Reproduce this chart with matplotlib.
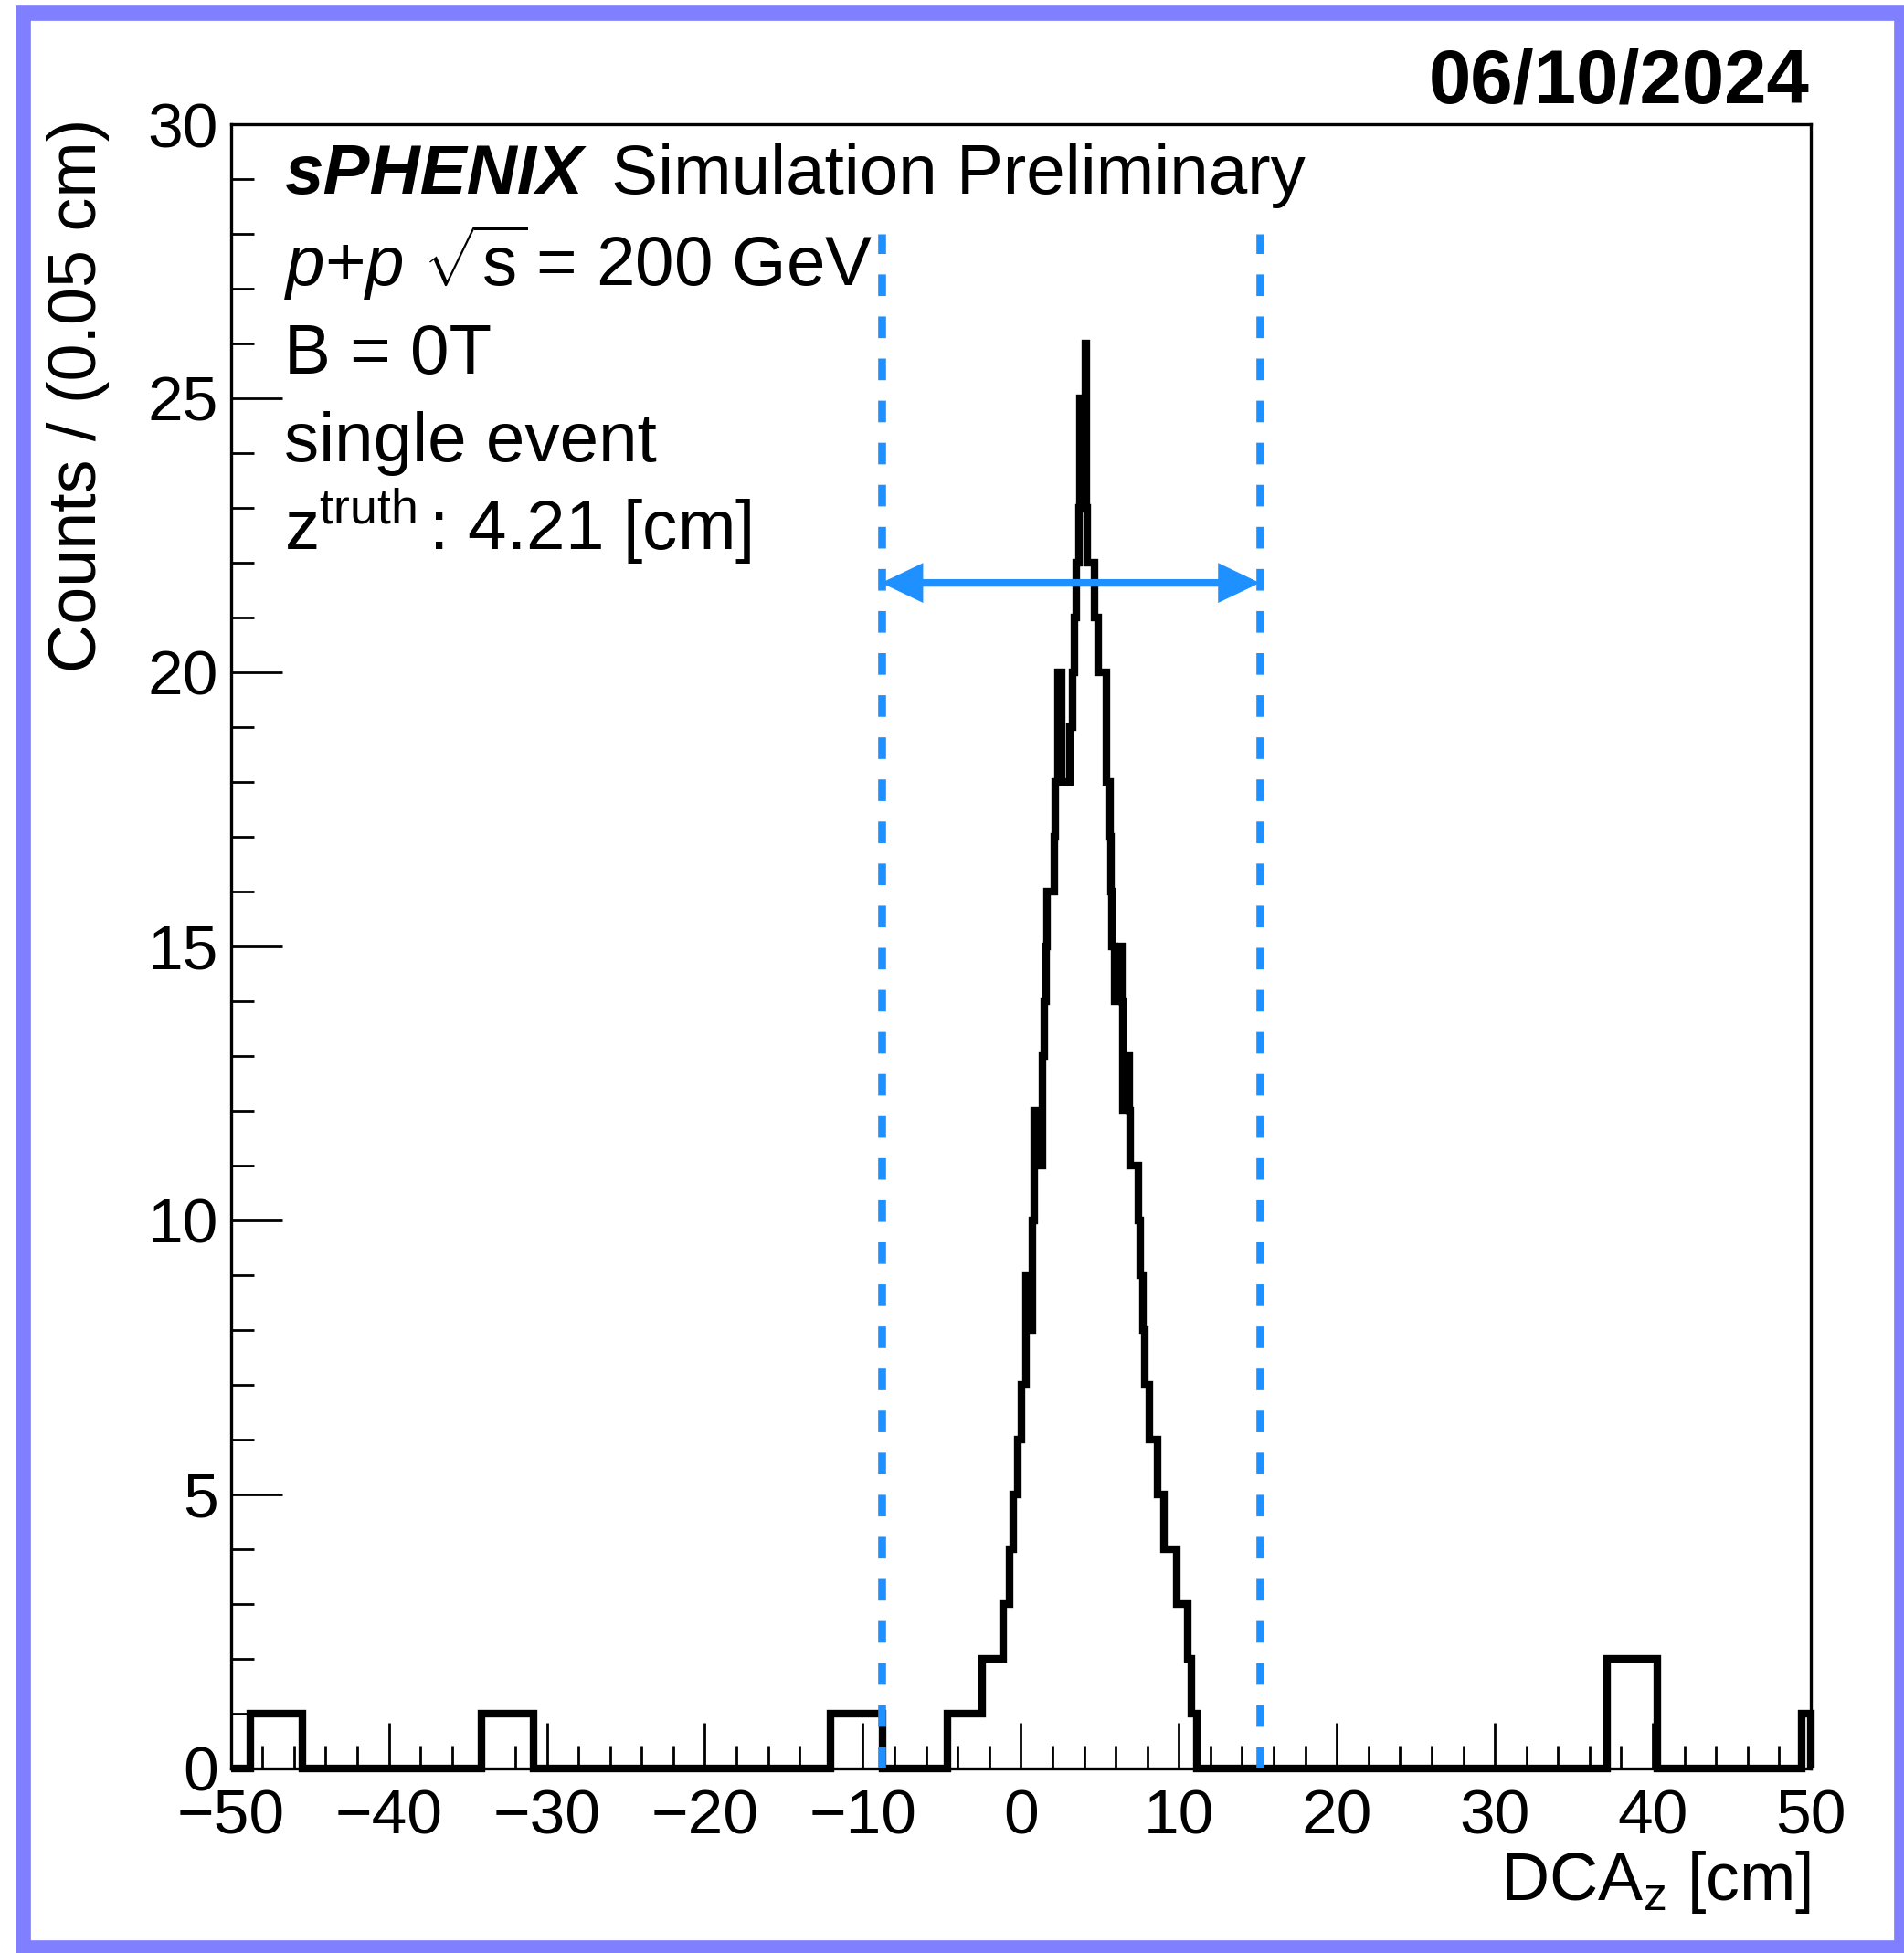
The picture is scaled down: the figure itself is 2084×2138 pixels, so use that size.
import matplotlib
matplotlib.use("Agg")
import matplotlib.pyplot as plt
from matplotlib.patches import Rectangle
from matplotlib.ticker import MultipleLocator

plt.rcParams['font.family'] = ['Liberation Sans', 'DejaVu Sans']
plt.rcParams['mathtext.fontset'] = 'custom'
plt.rcParams['mathtext.rm'] = 'Liberation Sans'
plt.rcParams['mathtext.it'] = 'Liberation Sans:italic'
plt.rcParams['mathtext.bf'] = 'Liberation Sans:bold'

# DCA_z histogram outline: bin edges [cm] and counts
edges = [-50.0, -48.75, -45.45, -34.15, -30.85, -12.05, -8.78,
         -4.65, -2.47, -1.11, -0.69, -0.46, -0.17, 0.03, 0.35, 0.68, 0.72,
         0.83, 1.30, 1.35, 1.47, 1.60, 1.64, 2.12, 2.18, 2.33, 2.58, 3.10,
         3.29, 3.41, 3.50, 3.70, 3.76, 4.10, 4.17, 4.22, 4.66, 4.90, 5.40,
         5.65, 5.72, 5.76, 5.95, 6.35, 6.40, 6.45, 6.50, 6.87, 6.92, 7.44,
         7.56, 7.70, 7.84, 8.14, 8.64, 9.05, 9.86, 10.55, 10.77, 11.15,
         37.1, 40.3, 49.4, 50.0]
counts = [0, 1, 0, 1, 0, 1, 0,
          1, 2, 3, 4, 5, 6, 7, 9, 8, 10,
          12, 11, 13, 14, 15, 16, 17, 18, 20, 18, 19,
          20, 21, 22, 23, 25, 26, 23, 22, 21, 20, 18,
          17, 16, 15, 14, 15, 14, 12, 13, 12, 11, 10,
          9, 8, 7, 6, 5, 4, 3, 2, 1, 0,
          2, 0, 1]

# vertex window (dashed lines) and arrow height
window = [-8.83, 15.13]
window_top = 28.0
arrow_y = 21.63

info_lines = [r'$\mathit{p}$+$\mathit{p}$ $\sqrt{\mathrm{s}}\!$ = 200 GeV',
              'B = 0T',
              'single event',
              r'$\mathrm{z}^{\mathrm{truth}}\,$: 4.21 [cm]']

blue = '#1E90FF'
W, H = 2084, 2138
fig = plt.figure(figsize=(W / 100, H / 100), dpi=100)
ax = fig.add_axes([252.7 / W, 1 - 1935.7 / H, (1982 - 252.7) / W, (1935.7 - 136) / H])

ax.stairs(counts, edges, baseline=0, color='black', linewidth=6,
          joinstyle='miter', clip_on=False, zorder=3)

for x in window:
    ax.plot([x, x], [0, window_top], color=blue, linewidth=6.2,
            dashes=(2.75, 2.6), dash_capstyle='butt', zorder=4)

ax.annotate('', xy=(window[1], arrow_y), xytext=(window[0], arrow_y),
            arrowprops=dict(arrowstyle='<|-|>,head_length=1.15,head_width=0.55',
                            mutation_scale=20, color=blue, lw=6,
                            shrinkA=0, shrinkB=0, joinstyle='miter'),
            zorder=5)

ax.set_xlim(-50, 50)
ax.set_ylim(0, 30)
ax.xaxis.set_major_locator(MultipleLocator(10))
ax.xaxis.set_minor_locator(MultipleLocator(2))
ax.yaxis.set_major_locator(MultipleLocator(5))
ax.yaxis.set_minor_locator(MultipleLocator(1))
ax.tick_params(which='both', direction='in', top=False, right=False,
               width=2, labelsize=50)
ax.tick_params(axis='x', which='major', length=36, pad=16)
ax.tick_params(axis='x', which='minor', length=18)
ax.tick_params(axis='y', which='major', length=40, pad=10)
ax.tick_params(axis='y', which='minor', length=18)
for s in ax.spines.values():
    s.set_linewidth(2.4)

fig.text(86 / W, 1 - 130 / H, 'Counts / (0.05 cm)', rotation=90,
         ha='center', va='top', fontsize=53)
fig.text(1982 / W, 1 - 2080 / H, r'DCA$_\mathrm{z}$ [cm]', ha='right',
         va='baseline', fontsize=53)
fig.text(1981 / W, 1 - 113 / H, '06/10/2024', ha='right', va='baseline',
         fontsize=60, fontweight='bold')

# label block in the upper left
tx = 0.0337
t1 = ax.text(tx, 0.958, 'sPHENIX', transform=ax.transAxes, fontsize=55,
             fontweight='bold', fontstyle='italic', va='baseline')
fig.canvas.draw()
bb = t1.get_window_extent(fig.canvas.get_renderer())
x2 = ax.transAxes.inverted().transform((bb.x1 + 10, bb.y0))[0]
ax.text(x2, 0.958, ' Simulation Preliminary', transform=ax.transAxes,
        fontsize=55, va='baseline')
for i, line in enumerate(info_lines):
    ax.text(tx, 0.9018 - i * 0.0535, line, transform=ax.transAxes,
            fontsize=55, va='baseline')

# frame around the whole canvas
frame = Rectangle((25 / W, 1 - 2132 / H), (2081 - 25) / W, (2132 - 14) / H,
                  transform=fig.transFigure, fill=False,
                  edgecolor='#7f7fff', linewidth=12, joinstyle='miter')
fig.patches.append(frame)

fig.savefig('out.png', dpi=100)
